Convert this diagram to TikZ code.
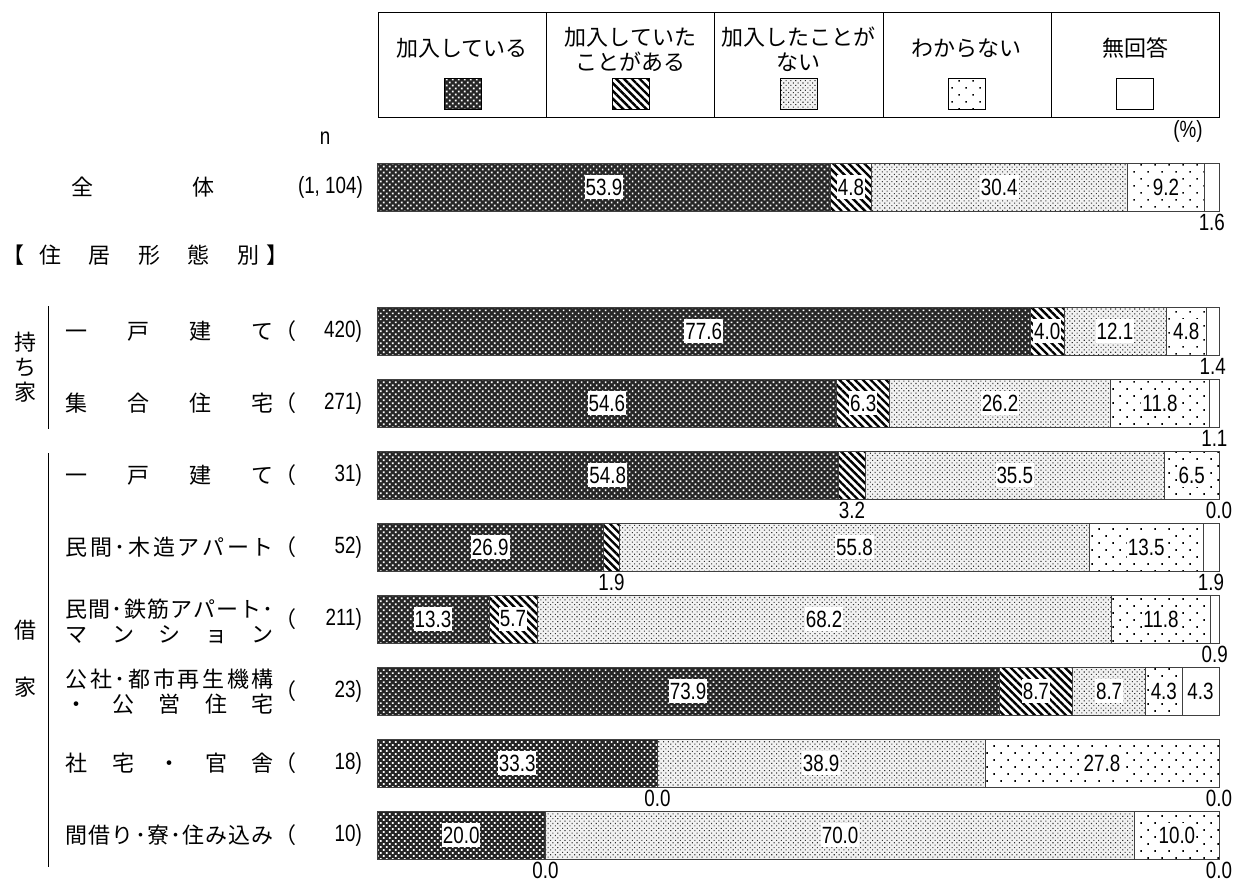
\documentclass[tikz,border=0pt]{standalone}
\usepackage{fontspec}
\usepackage{tikz}
\usetikzlibrary{patterns,patterns.meta}
\newfontfamily\jp{Noto Sans CJK JP}
\newfontfamily\numfont[FakeStretch=0.8]{Liberation Sans}

% one segment: style, start %, end %, label, y, name
\newcommand{\seg}[6]{%
  \pgfmathsetmacro{\segl}{377+8.42*(#2)}
  \pgfmathsetmacro{\segr}{377+8.42*(#3)}
  \pgfmathsetmacro{\segm}{(\segl+\segr)/2}
  \draw[bar,#1] (\segl,#5-24) rectangle (\segr,#5+24);
  \ifdim #4pt<3.5pt
    \node (#6) at (\segm,#5+35) [num] {#4};
  \else
    \node (#6) at (\segm,#5) [val] {#4};
  \fi
}

% one bar: name, y, five values
\newcommand{\barrow}[7]{%
  \pgfmathsetmacro{\cumA}{#3}
  \pgfmathsetmacro{\cumB}{#3+#4}
  \pgfmathsetmacro{\cumC}{#3+#4+#5}
  \pgfmathsetmacro{\cumD}{#3+#4+#5+#6}
  \seg{joined}{0}{\cumA}{#3}{#2}{#1-1}
  \seg{former}{\cumA}{\cumB}{#4}{#2}{#1-2}
  \seg{never}{\cumB}{\cumC}{#5}{#2}{#1-3}
  \seg{unknown}{\cumC}{\cumD}{#6}{#2}{#1-4}
  \seg{noreply}{\cumD}{100}{#7}{#2}{#1-5}
}

\begin{document}
\begin{tikzpicture}[x=1pt, y=-1pt,
  bar/.style={draw=black!75, line width=.7pt},
  joined/.style={preaction={fill=black!85}, pattern={Dots[angle=45,distance=4.24pt,radius=1.2pt]}, pattern color=white},
  former/.style={preaction={fill=white}, pattern={Lines[angle=-45,distance=5.5pt,line width=2.4pt]}, pattern color=black},
  never/.style={preaction={fill=black!5}, pattern={Dots[angle=45,distance=3.4pt,radius=.75pt]}, pattern color=black!80},
  unknown/.style={preaction={fill=white}, pattern={Dots[angle=45,distance=9.9pt,radius=1.1pt]}, pattern color=black},
  noreply/.style={fill=white},
  lbl/.style={font=\jp\fontsize{22}{25}\selectfont, inner sep=0pt},
  num/.style={font=\numfont\fontsize{23.5}{26}\selectfont, inner sep=0pt},
  val/.style={num, fill=white, inner xsep=1pt, inner ysep=4pt}]

\useasboundingbox (0,0) rectangle (1235,886);

\node (c1) at (462.3,64.5) [draw, minimum width=168.2pt, minimum height=105pt] {};
\node (c2) at (630.5,64.5) [draw, minimum width=168.2pt, minimum height=105pt] {};
\node (c3) at (798.7,64.5) [draw, minimum width=168.2pt, minimum height=105pt] {};
\node (c4) at (966.9,64.5) [draw, minimum width=168.2pt, minimum height=105pt] {};
\node (c5) at (1135.1,64.5) [draw, minimum width=168.2pt, minimum height=105pt] {};

\node (t1) at (462.3,48) [lbl] {加入している};
\node (t2) at (630.5,49.5) [lbl, align=center] {加入していた\\ことがある};
\node (t3) at (798.7,49.5) [lbl, align=center] {加入したことが\\ない};
\node (t4) at (966.9,48) [lbl] {わからない};
\node (t5) at (1135.1,48) [lbl] {無回答};

\node (k1) at (462.3,93.5) [joined, draw, minimum width=37pt, minimum height=31pt] {};
\node (k2) at (630.5,93.5) [former, draw, minimum width=37pt, minimum height=31pt] {};
\node (k3) at (798.7,93.5) [never, draw, minimum width=37pt, minimum height=31pt] {};
\node (k4) at (966.9,93.5) [unknown, draw, minimum width=37pt, minimum height=31pt] {};
\node (k5) at (1135.1,93.5) [noreply, draw, minimum width=37pt, minimum height=31pt] {};

\node (ncap) at (325,138) [num] {n};
\node (pct) at (1188,131) [num] {(\%)};

\node (all) at (71,187) [lbl, anchor=west] {\makebox[143pt][s]{全\hfill 体}};
\node (alln) at (363,187) [num, anchor=east] {(1, 104)};

\node (brl) at (13,255) [lbl] {【};
\node (head) at (39,255) [lbl, anchor=west] {\makebox[220pt][s]{住\hfill 居\hfill 形\hfill 態\hfill 別}};
\node (brr) at (277,255) [lbl] {】};

\node (own) at (25,367) [lbl, align=center] {持\\ち\\家};
\draw (48,306) -- (48,429);
\node (rent1) at (25,630) [lbl] {借};
\node (rent2) at (25,687) [lbl] {家};
\draw (48,453) -- (48,867);

\node (r1) at (65.5,331) [lbl, anchor=west] {\makebox[208pt][s]{一\hfill 戸\hfill 建\hfill て}};
\node (p1) at (285,331) [lbl] {（};
\node (n1) at (362,331) [num, anchor=east] {420)};

\node (r2) at (65.5,403) [lbl, anchor=west] {\makebox[208pt][s]{集\hfill 合\hfill 住\hfill 宅}};
\node (p2) at (285,403) [lbl] {（};
\node (n2) at (362,403) [num, anchor=east] {271)};

\node (r3) at (65.5,475) [lbl, anchor=west] {\makebox[208pt][s]{一\hfill 戸\hfill 建\hfill て}};
\node (p3) at (285,475) [lbl] {（};
\node (n3) at (362,475) [num, anchor=east] {31)};

\node (r4) at (65.5,547) [lbl, anchor=west] {\makebox[208pt][s]{民\hfill 間\hfill ･\hfill 木\hfill 造\hfill ア\hfill パ\hfill ー\hfill ト}};
\node (p4) at (285,547) [lbl] {（};
\node (n4) at (362,547) [num, anchor=east] {52)};

\node (r5) at (65.5,621) [lbl, anchor=west, align=left] {\makebox[208pt][s]{民\hfill 間\hfill ･\hfill 鉄\hfill 筋\hfill ア\hfill パ\hfill ー\hfill ト\hfill ･}\\\makebox[208pt][s]{マ\hfill ン\hfill シ\hfill ョ\hfill ン}};
\node (p5) at (285,619) [lbl] {（};
\node (n5) at (362,619) [num, anchor=east] {211)};

\node (r6) at (65.5,692) [lbl, anchor=west, align=left] {\makebox[208pt][s]{公\hfill 社\hfill ･\hfill 都\hfill 市\hfill 再\hfill 生\hfill 機\hfill 構}\\\makebox[208pt][s]{・\hfill 公\hfill 営\hfill 住\hfill 宅}};
\node (p6) at (285,691) [lbl] {（};
\node (n6) at (362,691) [num, anchor=east] {23)};

\node (r7) at (65.5,763) [lbl, anchor=west] {\makebox[208pt][s]{社\hfill 宅\hfill ・\hfill 官\hfill 舎}};
\node (p7) at (285,763) [lbl] {（};
\node (n7) at (362,763) [num, anchor=east] {18)};

\node (r8) at (65.5,835) [lbl, anchor=west] {\makebox[208pt][s]{間\hfill 借\hfill り\hfill ･\hfill 寮\hfill ･\hfill 住\hfill み\hfill 込\hfill み}};
\node (p8) at (285,835) [lbl] {（};
\node (n8) at (362,835) [num, anchor=east] {10)};

\barrow{b0}{187}{53.9}{4.8}{30.4}{9.2}{1.6}
\barrow{b1}{331}{77.6}{4.0}{12.1}{4.8}{1.4}
\barrow{b2}{403}{54.6}{6.3}{26.2}{11.8}{1.1}
\barrow{b3}{475}{54.8}{3.2}{35.5}{6.5}{0.0}
\barrow{b4}{547}{26.9}{1.9}{55.8}{13.5}{1.9}
\barrow{b5}{619}{13.3}{5.7}{68.2}{11.8}{0.9}
\barrow{b6}{691}{73.9}{8.7}{8.7}{4.3}{4.3}
\barrow{b7}{763}{33.3}{0.0}{38.9}{27.8}{0.0}
\barrow{b8}{835}{20.0}{0.0}{70.0}{10.0}{0.0}

\end{tikzpicture}
\end{document}
